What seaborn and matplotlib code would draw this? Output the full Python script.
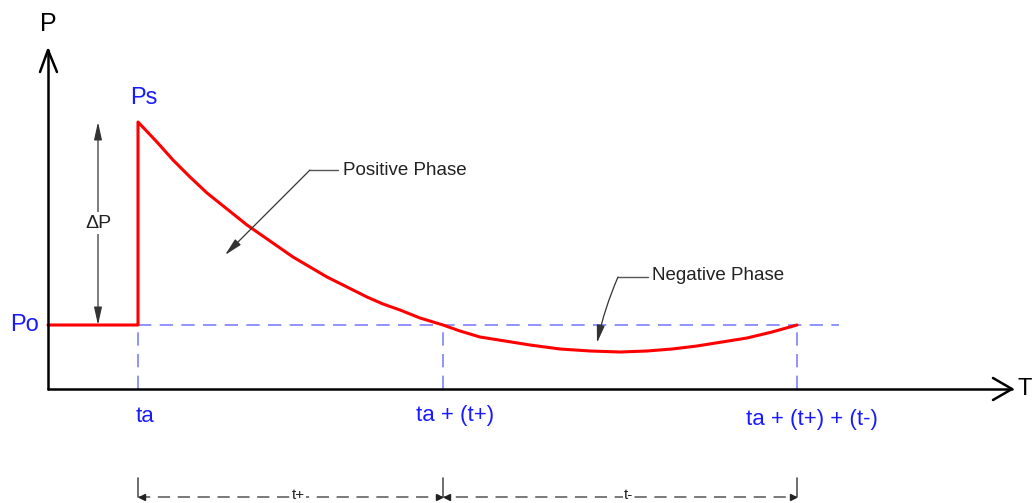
import matplotlib
matplotlib.use("Agg")
import matplotlib.pyplot as plt
import seaborn as sns
import pandas as pd
import numpy as np

# ---------------- data (time units / pressure units, origin at axes crossing) ----------
t_a = 90          # arrival time
t_pos = 305       # positive phase duration
t_neg = 354       # negative phase duration
P_o = 64          # ambient pressure
P_s = 267         # peak overpressure

pre_t = [0, 90, 90]
pre_p = [64, 64, 267]
pos_t = [90, 108, 125, 142, 159, 179, 199, 222, 245, 262, 279, 299, 319, 335, 352, 372, 395]
pos_p = [267, 248, 229, 212, 196, 180, 164, 148, 132, 122, 112, 102, 92, 85, 79, 71, 64]
neg_t = [412, 432, 457, 482, 512, 542, 572, 599, 624, 649, 674, 699, 724, 749]
neg_p = [58, 52, 48, 44, 40, 38, 37, 38, 40, 43, 47, 51, 57, 64]

tick_times = [t_a, t_a + t_pos, t_a + t_pos + t_neg]
tick_labels = ["ta", "ta + (t+)", "ta + (t+) + (t-)"]

# ---------------- figure ----------------
sns.set_theme(style="white")
plt.rcParams["font.family"] = ["Liberation Sans", "DejaVu Sans"]

W, H = 1035, 503
fig = plt.figure(figsize=(W / 100, H / 100), dpi=100)
ax = fig.add_axes([0, 0, 1, 1])
ax.set_xlim(-48, W - 48)
ax.set_ylim(389 - H, 389)
ax.axis("off")

blue = "#1a1aff"
dash_blue = "#7f7fff"
gray = "#555555"

# ambient reference dashed lines
t_end = t_a + t_pos + t_neg
ax.plot([t_a, t_end + 42], [P_o, P_o], color=dash_blue, lw=1.2, dashes=(8, 5), zorder=1)
for tt in tick_times:
    ax.plot([tt, tt], [0, P_o], color=dash_blue, lw=1.2, dashes=(8, 5), zorder=1)

# pressure curve
curve = pd.DataFrame({
    "t": pre_t + pos_t + neg_t,
    "p": pre_p + pos_p + neg_p,
})
sns.lineplot(data=curve, x="t", y="p", sort=False, estimator=None,
             color="#ff0000", lw=2.2, ax=ax, zorder=3)
ax.set_xlabel("")
ax.set_ylabel("")

# axes with open arrows
ax.plot([0, 0], [0, 339], color="black", lw=1.8, zorder=4)
ax.plot([0, 964], [0, 0], color="black", lw=1.8, zorder=4)
ax.plot([-8, 0, 9], [317, 339, 317], color="black", lw=1.8, zorder=4)
ax.plot([945, 964, 945], [11, 0, -11], color="black", lw=1.8, zorder=4)
ax.text(0, 365, "P", fontsize=18, ha="center", va="center", color="black")
ax.text(977, 0, "T", fontsize=17, ha="center", va="center", color="black")

# labels
ax.text(96, 291, "Ps", fontsize=17, ha="center", va="center", color=blue)
ax.text(-23, P_o, "Po", fontsize=17, ha="center", va="center", color=blue)
for tt, lab, dx, dy in zip(tick_times, tick_labels, [7, 12, 15], [-27, -27, -30]):
    ax.text(tt + dx, dy, lab, fontsize=16, ha="center", va="center", color=blue)

# delta P dimension
ax.annotate("", xy=(50, P_s), xytext=(50, P_o),
            arrowprops=dict(arrowstyle="<|-|>,head_length=0.9,head_width=0.2",
                            color="#333333", lw=0.9, shrinkA=0, shrinkB=0), zorder=2)
ax.text(50, 166, "ΔP", fontsize=14, ha="center", va="center", color="#222222",
        bbox=dict(facecolor="white", edgecolor="none", pad=1.5), zorder=5)

# Positive phase annotation
ax.plot([262, 290], [219, 219], color=gray, lw=1.0)
ax.annotate("", xy=(177, 134), xytext=(262, 219),
            arrowprops=dict(arrowstyle="-|>,head_length=0.9,head_width=0.2",
                            color="#333333", lw=0.9, shrinkA=0, shrinkB=0))
ax.text(295, 219, "Positive Phase", fontsize=13.5, ha="left", va="center", color="#222222")

# Negative phase annotation
ax.plot([570, 600], [112, 112], color=gray, lw=1.0)
ax.annotate("", xy=(549, 46), xytext=(570, 112),
            arrowprops=dict(arrowstyle="-|>,head_length=0.9,head_width=0.2",
                            color="#333333", lw=0.9, shrinkA=0, shrinkB=0,
                            connectionstyle="arc3,rad=0.05"))
ax.text(604, 113, "Negative Phase", fontsize=13.5, ha="left", va="center", color="#222222")

# bottom duration dimensions
yd = -108
for tt in tick_times:
    ax.plot([tt, tt], [-89, yd], color=gray, lw=1.2)
ax.plot([t_a, t_end], [yd, yd], color=gray, lw=1.1, dashes=(8, 5))
for x0, x1 in [(t_a, t_a + t_pos), (t_a + t_pos, t_end)]:
    ax.plot([x0 + 4], [yd], marker="<", color="#222222", ms=5)
    ax.plot([x1 - 4], [yd], marker=">", color="#222222", ms=5)
ax.text(t_a + t_pos / 2 + 8, -106, "t+", fontsize=11, ha="center", va="center", color="#222222",
        bbox=dict(facecolor="white", edgecolor="none", pad=0.3))
ax.text(t_a + t_pos + t_neg / 2 + 8, -106, "t-", fontsize=11, ha="center", va="center", color="#222222",
        bbox=dict(facecolor="white", edgecolor="none", pad=0.3))

fig.savefig("out.png", dpi=100, facecolor="white")
